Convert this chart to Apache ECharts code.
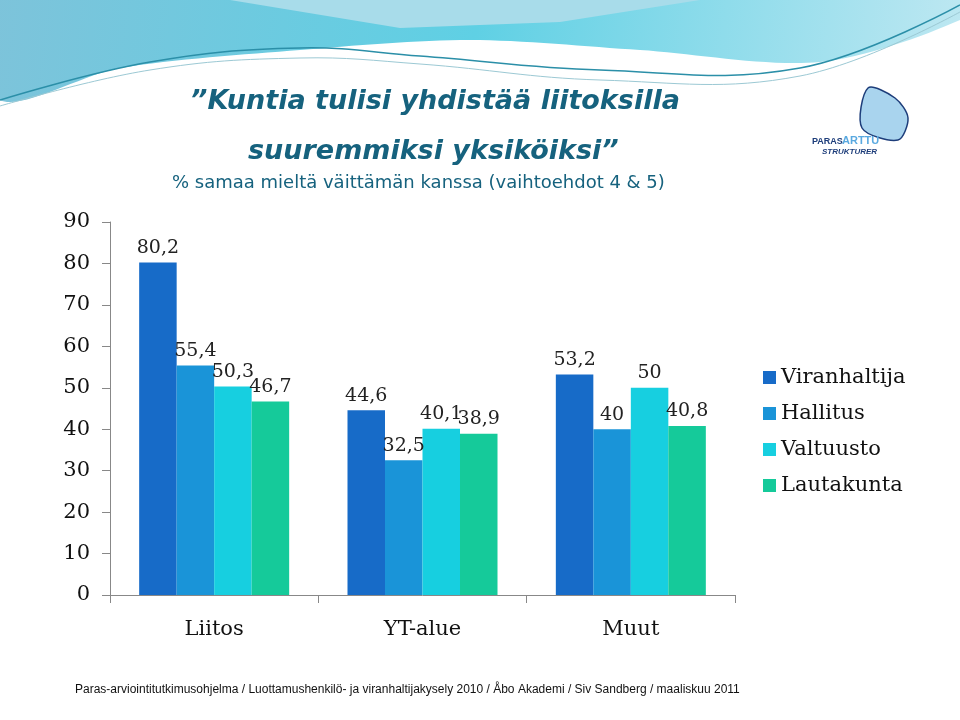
<!DOCTYPE html>
<html lang="fi">
<head>
  <meta charset="UTF-8">
  <title>Kuntia tulisi yhdistää</title>
  <style>
    * { margin: 0; padding: 0; }
    body { width: 960px; height: 720px; background: #ffffff; }
    #main { width: 960px; height: 720px; }
  </style>
</head>
<body>
  <div id="main"></div>
  <script src="https://cdn.jsdelivr.net/npm/echarts@6/dist/echarts.min.js"></script>
  <script>
    var categories = ['Liitos', 'YT-alue', 'Muut'];
    var viranhaltija = [80.2, 44.6, 53.2];
    var hallitus = [55.4, 32.5, 40];
    var valtuusto = [50.3, 40.1, 50];
    var lautakunta = [46.7, 38.9, 40.8];
    var seriesNames = ['Viranhaltija', 'Hallitus', 'Valtuusto', 'Lautakunta'];
    var colors = ['#176bc8', '#1a94d8', '#17cfe0', '#15ca9a'];

    var serif = '"DejaVu Serif", "Liberation Serif", serif';
    var chart = echarts.init(document.getElementById('main'));

    function bar(name, data, color) {
      return {
        name: name,
        type: 'bar',
        data: data,
        barGap: '0%',
        barCategoryGap: '28%',
        itemStyle: { color: color },
        label: {
          show: true,
          position: 'top',
          formatter: function (p) { return String(p.value).replace('.', ','); },
          fontFamily: serif,
          fontSize: 19,
          color: '#222'
        }
      };
    }

    var waveFill = {
      type: 'linear', x: 0, y: 0, x2: 1, y2: 1,
      colorStops: [
        { offset: 0, color: '#7ec3da' }, { offset: 0.5, color: '#5fd0e4' }, { offset: 1, color: '#bfe8f2' }
      ]
    };

    var option = {
      backgroundColor: '#ffffff',
      animation: false,
      color: colors,
      graphic: [
        // top wave decoration
        {
          type: 'polygon', z: -1,
          shape: { points: [[0, 0], [960, 0], [960, 20], [820, 62], [640, 50], [470, 40], [300, 50], [120, 68], [0, 100]], smooth: 0.3 },
          style: { fill: waveFill }
        },
        {
          type: 'polygon', z: -1,
          shape: { points: [[230, 0], [400, 28], [560, 22], [700, 0]] },
          style: { fill: '#a8dcea' }
        },
        {
          type: 'polyline', z: -1,
          shape: { points: [[0, 100], [150, 62], [300, 48], [420, 56], [600, 70], [800, 68], [960, 5]], smooth: 0.4 },
          style: { stroke: '#2b8fa8', lineWidth: 1.5 }
        },
        {
          type: 'polyline', z: -1,
          shape: { points: [[0, 106], [150, 70], [300, 58], [420, 64], [600, 80], [800, 76], [960, 12]], smooth: 0.4 },
          style: { stroke: '#9cc9d4', lineWidth: 1 }
        },
        // title
        {
          type: 'text', left: 190, top: 88,
          style: { text: '\u201dKuntia tulisi yhdistää liitoksilla', fill: '#16627e',
            font: 'italic bold 27px "DejaVu Sans", sans-serif' }
        },
        {
          type: 'text', left: 248, top: 138,
          style: { text: 'suuremmiksi yksiköiksi\u201d', fill: '#16627e',
            font: 'italic bold 27px "DejaVu Sans", sans-serif' }
        },
        {
          type: 'text', left: 172, top: 174,
          style: { text: '% samaa mieltä väittämän kanssa (vaihtoehdot 4 & 5)', fill: '#16627e',
            font: '18px "DejaVu Sans", sans-serif' }
        },
        // logo
        {
          type: 'polygon',
          shape: { points: [[868, 88], [895, 98], [908, 118], [898, 140], [862, 128]], smooth: 0.3 },
          style: { fill: '#a9d4ee', stroke: '#1d3d7a', lineWidth: 1.5 }
        },
        {
          type: 'text', left: 812, top: 137,
          style: { text: 'PARAS', fill: '#1d3d7a', font: 'bold 9px "Liberation Sans", sans-serif' }
        },
        {
          type: 'text', left: 842, top: 135,
          style: { text: 'ARTTU', fill: '#5aa9e0', font: 'bold 11px "Liberation Sans", sans-serif' }
        },
        {
          type: 'text', left: 822, top: 148,
          style: { text: 'STRUKTURER', fill: '#1d3d7a', font: 'italic bold 8px "Liberation Sans", sans-serif' }
        },
        // footer
        {
          type: 'text', left: 75, top: 684,
          style: { text: 'Paras-arviointitutkimusohjelma / Luottamushenkilö- ja viranhaltijakysely 2010 / Åbo Akademi / Siv Sandberg / maaliskuu 2011',
            fill: '#111', font: '12px "Liberation Sans", sans-serif' }
        }
      ],
      legend: {
        orient: 'vertical',
        left: 758, top: 362,
        itemWidth: 13, itemHeight: 13,
        itemGap: 15,
        icon: 'rect',
        data: seriesNames,
        textStyle: { fontFamily: serif, fontSize: 21, color: '#111' }
      },
      grid: { left: 110, right: 225, top: 222, bottom: 125 },
      xAxis: {
        type: 'category',
        data: categories,
        axisLine: { lineStyle: { color: '#888' } },
        axisTick: { show: true, length: 8, lineStyle: { color: '#888' } },
        axisLabel: { fontFamily: serif, fontSize: 21, color: '#111', margin: 24 }
      },
      yAxis: {
        type: 'value',
        min: 0, max: 90, interval: 10,
        splitLine: { show: false },
        axisLine: { show: true, lineStyle: { color: '#888' } },
        axisTick: { show: true, length: 8, lineStyle: { color: '#888' } },
        axisLabel: { fontFamily: serif, fontSize: 21, color: '#111', margin: 20 }
      },
      series: [
        bar(seriesNames[0], viranhaltija, colors[0]),
        bar(seriesNames[1], hallitus, colors[1]),
        bar(seriesNames[2], valtuusto, colors[2]),
        bar(seriesNames[3], lautakunta, colors[3])
      ]
    };

    chart.setOption(option);
  </script>
</body>
</html>
